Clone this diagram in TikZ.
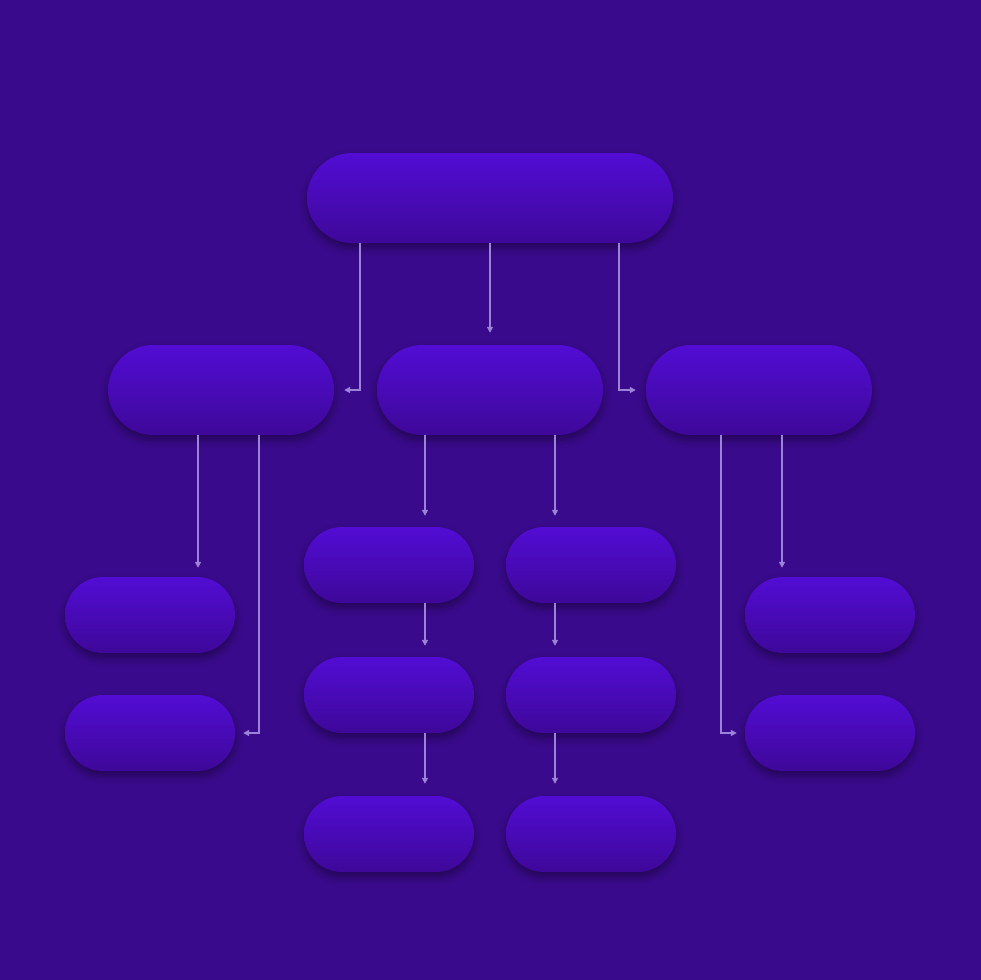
\documentclass[tikz,border=0pt]{standalone}
\usepackage{tikz}
\usetikzlibrary{positioning, arrows.meta, shadows.blur}
\definecolor{bgpurple}{HTML}{3A0A8C}
\definecolor{pilltop}{HTML}{520CD4}
\definecolor{pillbot}{HTML}{3E0899}
\definecolor{linkcol}{HTML}{9C82D8}

\begin{document}
\begin{tikzpicture}[x=1pt, y=-1pt,
  pill/.style = {rectangle, rounded corners=38pt, minimum width=170pt, minimum height=76pt, inner sep=0pt,
    top color=pilltop, bottom color=pillbot,
    blur shadow={shadow xshift=0pt, shadow yshift=-5pt, shadow blur radius=8pt, shadow opacity=40}},
  bigpill/.style = {pill, rounded corners=45pt, minimum width=226pt, minimum height=90pt},
  link/.style = {draw=linkcol, line width=1.8pt, -{Triangle[length=6pt, width=6pt]}}]
\useasboundingbox (0,0) rectangle (980,980);
\fill[bgpurple] (-10,-10) rectangle (990,990);

\node[bigpill, minimum width=366pt] (r) at (490,198) {};
\node[bigpill] (a1) at (221,390) {};
\node[bigpill] (a2) at (490,390) {};
\node[bigpill] (a3) at (759,390) {};

\node[pill] (b1) at (150,615) {};
\node[pill] (b2) at (150,733) {};
\node[pill] (c1) at (389,565) {};
\node[pill] (c2) at (389,695) {};
\node[pill] (c3) at (389,834) {};
\node[pill] (d1) at (591,565) {};
\node[pill] (d2) at (591,695) {};
\node[pill] (d3) at (591,834) {};
\node[pill] (e1) at (830,615) {};
\node[pill] (e2) at (830,733) {};

\draw [link, shorten >=10pt] ([xshift=-130pt]r.south) |- (a1.east);
\draw [link, shorten >=12pt] (r) -- (a2);
\draw [link, shorten >=10pt] ([xshift=129pt]r.south) |- (a3.west);

\draw [link, shorten >=9pt] ([xshift=-23pt]a1.south) -- ([xshift=-23pt]a1.south |- b1.north);
\draw [link, shorten >=8pt] ([xshift=38pt]a1.south) |- (b2.east);
\draw [link, shorten >=11pt] ([xshift=-65pt]a2.south) -- ([xshift=-65pt]a2.south |- c1.north);
\draw [link, shorten >=11pt] ([xshift=65pt]a2.south) -- ([xshift=65pt]a2.south |- d1.north);
\draw [link, shorten >=8pt] ([xshift=-38pt]a3.south) |- (e2.west);
\draw [link, shorten >=9pt] ([xshift=23pt]a3.south) -- ([xshift=23pt]a3.south |- e1.north);

\draw [link, shorten >=11pt] ([xshift=36pt]c1.south) -- ([xshift=36pt]c1.south |- c2.north);
\draw [link, shorten >=12pt] ([xshift=36pt]c2.south) -- ([xshift=36pt]c2.south |- c3.north);
\draw [link, shorten >=11pt] ([xshift=-36pt]d1.south) -- ([xshift=-36pt]d1.south |- d2.north);
\draw [link, shorten >=12pt] ([xshift=-36pt]d2.south) -- ([xshift=-36pt]d2.south |- d3.north);
\end{tikzpicture}
\end{document}
